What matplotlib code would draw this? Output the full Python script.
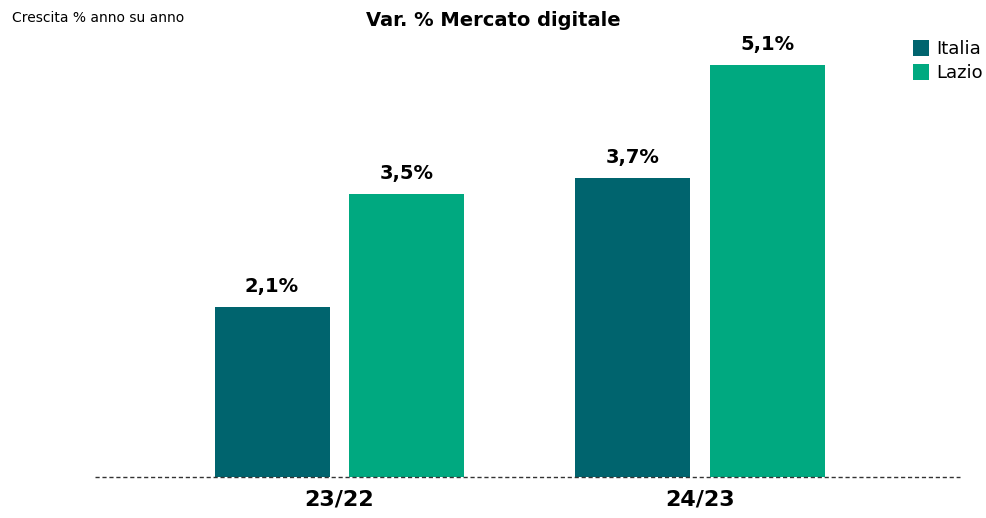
import numpy as np
import matplotlib.pyplot as plt

# dati
periodi = ["23/22", "24/23"]
italia = [2.1, 3.7]
lazio = [3.5, 5.1]
serie = ["Italia", "Lazio"]
colori = ["#00646E", "#00A980"]

fig = plt.figure(figsize=(9.86, 5.18), dpi=100)
ax = fig.add_axes([95 / 986, 41 / 518, 865 / 986, 477 / 518])

x = np.arange(len(periodi))
w = 0.319
off = 0.187

b1 = ax.bar(x - off, italia, w, color=colori[0], label=serie[0])
b2 = ax.bar(x + off, lazio, w, color=colori[1], label=serie[1])

for bars, vals in [(b1, italia), (b2, lazio)]:
    for b, v in zip(bars, vals):
        ax.text(b.get_x() + b.get_width() / 2, v + 0.14, f"{v:.1f}%".replace(".", ","),
                ha="center", va="bottom", fontsize=14, fontweight="bold")

ax.set_xlim(-0.678, 1.721)
ax.set_ylim(0, 477 / 80.8)
ax.axhline(0, color="#333333", linestyle=(0, (3, 2)), linewidth=1, clip_on=False)

ax.set_xticks(x)
ax.set_xticklabels(periodi, fontsize=16, fontweight="bold")
ax.tick_params(axis="x", length=0, pad=9)
ax.set_yticks([])
for s in ax.spines.values():
    s.set_visible(False)

fig.text(0.5, 0.96, "Var. % Mercato digitale", ha="center", va="center",
         fontsize=14, fontweight="bold")
fig.text(0.012, 0.965, "Crescita % anno su anno", ha="left", va="center", fontsize=10)

fig.legend(handles=[b1, b2], labels=serie, loc="upper left",
           bbox_to_anchor=(913 / 986, 1 - 40 / 518), frameon=False, fontsize=13,
           handlelength=0.9, handleheight=1.0, handletextpad=0.4, labelspacing=0.3,
           borderaxespad=0, borderpad=0)

plt.savefig("out.png", dpi=100)
